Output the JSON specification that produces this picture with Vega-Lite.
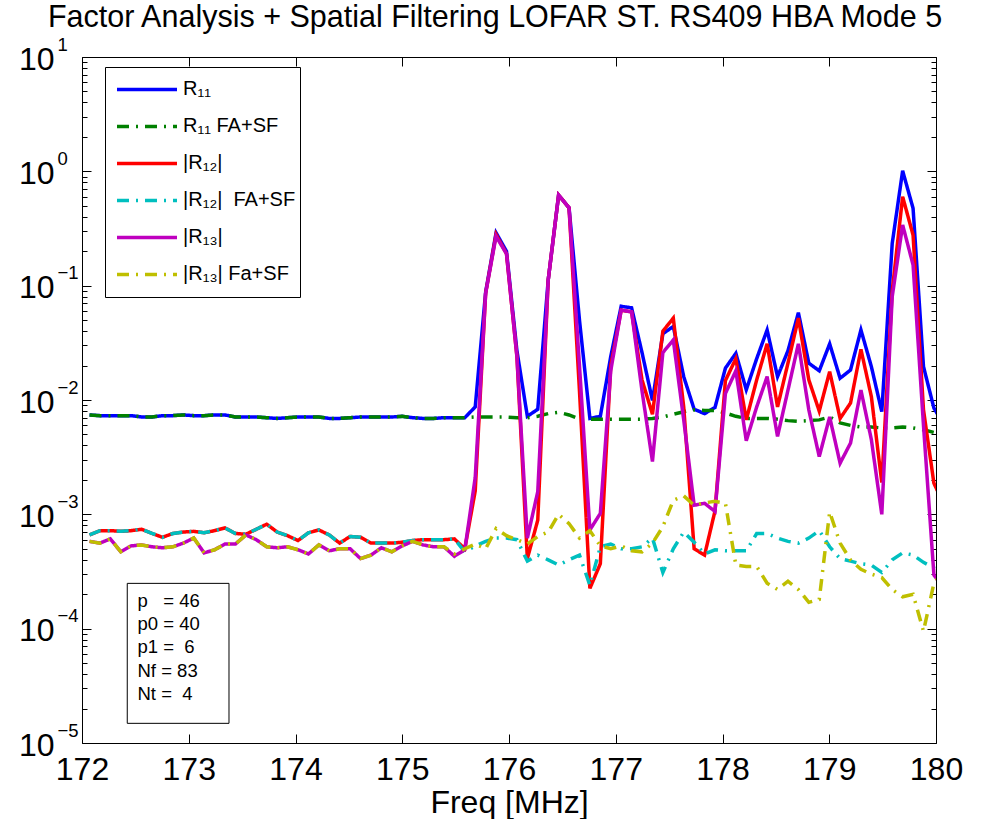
{
  "$schema": "https://vega.github.io/schema/vega-lite/v6.json",
  "width": 854,
  "height": 686,
  "autosize": {"type": "none"},
  "padding": {"left": 82, "top": 57, "right": 54, "bottom": 76},
  "background": "white",
  "config": {
    "font": "Liberation Sans",
    "view": {"stroke": "black", "strokeWidth": 1},
    "axis": {"domain": false, "grid": false, "tickColor": "black", "tickWidth": 1, "labelColor": "black", "titleColor": "black", "labelFont": "Liberation Sans", "titleFont": "Liberation Sans", "titleFontWeight": "normal"}
  },
  "title": {"text": "Factor Analysis + Spatial Filtering LOFAR ST. RS409 HBA Mode 5", "font": "Liberation Sans", "fontSize": 30.5, "fontWeight": "normal", "color": "black", "anchor": "middle", "frame": "group", "offset": 0, "dx": -14, "dy": -2},
  "datasets": {
    "spectra": [
      {"f": 172.0703, "R11": 0.0074, "R11fa": 0.0074, "R12": 0.00066, "R12fa": 0.00066, "R13": 0.00058, "R13fa": 0.00058},
      {"f": 172.1680, "R11": 0.0073, "R11fa": 0.0073, "R12": 0.00072, "R12fa": 0.00072, "R13": 0.00056, "R13fa": 0.00056},
      {"f": 172.2656, "R11": 0.0073, "R11fa": 0.0073, "R12": 0.00072, "R12fa": 0.00072, "R13": 0.00061, "R13fa": 0.00061},
      {"f": 172.3633, "R11": 0.0073, "R11fa": 0.0073, "R12": 0.00071, "R12fa": 0.00071, "R13": 0.00047, "R13fa": 0.00047},
      {"f": 172.4609, "R11": 0.0073, "R11fa": 0.0073, "R12": 0.00072, "R12fa": 0.00072, "R13": 0.00053, "R13fa": 0.00053},
      {"f": 172.5586, "R11": 0.0071, "R11fa": 0.0071, "R12": 0.00074, "R12fa": 0.00074, "R13": 0.00054, "R13fa": 0.00054},
      {"f": 172.6563, "R11": 0.0071, "R11fa": 0.0071, "R12": 0.00068, "R12fa": 0.00068, "R13": 0.00052, "R13fa": 0.00052},
      {"f": 172.7539, "R11": 0.0073, "R11fa": 0.0073, "R12": 0.00063, "R12fa": 0.00063, "R13": 0.00051, "R13fa": 0.00051},
      {"f": 172.8516, "R11": 0.0073, "R11fa": 0.0073, "R12": 0.00068, "R12fa": 0.00068, "R13": 0.00052, "R13fa": 0.00052},
      {"f": 172.9492, "R11": 0.0074, "R11fa": 0.0074, "R12": 0.00070, "R12fa": 0.00070, "R13": 0.00056, "R13fa": 0.00056},
      {"f": 173.0469, "R11": 0.0073, "R11fa": 0.0073, "R12": 0.00071, "R12fa": 0.00071, "R13": 0.00062, "R13fa": 0.00062},
      {"f": 173.1445, "R11": 0.0073, "R11fa": 0.0073, "R12": 0.00069, "R12fa": 0.00069, "R13": 0.00046, "R13fa": 0.00046},
      {"f": 173.2422, "R11": 0.0074, "R11fa": 0.0074, "R12": 0.00072, "R12fa": 0.00072, "R13": 0.00049, "R13fa": 0.00049},
      {"f": 173.3398, "R11": 0.0074, "R11fa": 0.0074, "R12": 0.00076, "R12fa": 0.00076, "R13": 0.00055, "R13fa": 0.00055},
      {"f": 173.4375, "R11": 0.0071, "R11fa": 0.0071, "R12": 0.00068, "R12fa": 0.00068, "R13": 0.00055, "R13fa": 0.00055},
      {"f": 173.5352, "R11": 0.0071, "R11fa": 0.0071, "R12": 0.00067, "R12fa": 0.00067, "R13": 0.00066, "R13fa": 0.00066},
      {"f": 173.6328, "R11": 0.0071, "R11fa": 0.0071, "R12": 0.00074, "R12fa": 0.00074, "R13": 0.00060, "R13fa": 0.00060},
      {"f": 173.7305, "R11": 0.0070, "R11fa": 0.0070, "R12": 0.00082, "R12fa": 0.00082, "R13": 0.00052, "R13fa": 0.00052},
      {"f": 173.8281, "R11": 0.0069, "R11fa": 0.0069, "R12": 0.00070, "R12fa": 0.00070, "R13": 0.00051, "R13fa": 0.00051},
      {"f": 173.9258, "R11": 0.0070, "R11fa": 0.0070, "R12": 0.00065, "R12fa": 0.00065, "R13": 0.00052, "R13fa": 0.00052},
      {"f": 174.0234, "R11": 0.0071, "R11fa": 0.0071, "R12": 0.00059, "R12fa": 0.00059, "R13": 0.00049, "R13fa": 0.00049},
      {"f": 174.1211, "R11": 0.0071, "R11fa": 0.0071, "R12": 0.00069, "R12fa": 0.00069, "R13": 0.00045, "R13fa": 0.00045},
      {"f": 174.2188, "R11": 0.0071, "R11fa": 0.0071, "R12": 0.00073, "R12fa": 0.00073, "R13": 0.00054, "R13fa": 0.00054},
      {"f": 174.3164, "R11": 0.0069, "R11fa": 0.0069, "R12": 0.00066, "R12fa": 0.00066, "R13": 0.00048, "R13fa": 0.00048},
      {"f": 174.4141, "R11": 0.0069, "R11fa": 0.0069, "R12": 0.00056, "R12fa": 0.00056, "R13": 0.00050, "R13fa": 0.00050},
      {"f": 174.5117, "R11": 0.0070, "R11fa": 0.0070, "R12": 0.00064, "R12fa": 0.00064, "R13": 0.00050, "R13fa": 0.00050},
      {"f": 174.6094, "R11": 0.0071, "R11fa": 0.0071, "R12": 0.00063, "R12fa": 0.00063, "R13": 0.00041, "R13fa": 0.00041},
      {"f": 174.7070, "R11": 0.0071, "R11fa": 0.0071, "R12": 0.00056, "R12fa": 0.00056, "R13": 0.00044, "R13fa": 0.00044},
      {"f": 174.8047, "R11": 0.0071, "R11fa": 0.0071, "R12": 0.00056, "R12fa": 0.00056, "R13": 0.00051, "R13fa": 0.00051},
      {"f": 174.9023, "R11": 0.0071, "R11fa": 0.0071, "R12": 0.00056, "R12fa": 0.00056, "R13": 0.00047, "R13fa": 0.00047},
      {"f": 175.0000, "R11": 0.0072, "R11fa": 0.0072, "R12": 0.00057, "R12fa": 0.00057, "R13": 0.00053, "R13fa": 0.00053},
      {"f": 175.0977, "R11": 0.0070, "R11fa": 0.0070, "R12": 0.00059, "R12fa": 0.00059, "R13": 0.00058, "R13fa": 0.00058},
      {"f": 175.1953, "R11": 0.0069, "R11fa": 0.0069, "R12": 0.00060, "R12fa": 0.00060, "R13": 0.00054, "R13fa": 0.00054},
      {"f": 175.2930, "R11": 0.0069, "R11fa": 0.0069, "R12": 0.00060, "R12fa": 0.00060, "R13": 0.00052, "R13fa": 0.00052},
      {"f": 175.3906, "R11": 0.0070, "R11fa": 0.0070, "R12": 0.00060, "R12fa": 0.00060, "R13": 0.00052, "R13fa": 0.00052},
      {"f": 175.4883, "R11": 0.0070, "R11fa": 0.0070, "R12": 0.00061, "R12fa": 0.00061, "R13": 0.00043, "R13fa": 0.00045},
      {"f": 175.5859, "R11": 0.0070, "R11fa": 0.0070, "R12": 0.00050, "R12fa": 0.00047, "R13": 0.00049, "R13fa": 0.00050},
      {"f": 175.6836, "R11": 0.0087, "R11fa": 0.0071, "R12": 0.0016, "R12fa": 0.00053, "R13": 0.0021, "R13fa": 0.00055},
      {"f": 175.7813, "R11": 0.088, "R11fa": 0.0071, "R12": 0.086, "R12fa": 0.00058, "R13": 0.086, "R13fa": 0.00050},
      {"f": 175.8789, "R11": 0.29, "R11fa": 0.0071, "R12": 0.28, "R12fa": 0.00062, "R13": 0.27, "R13fa": 0.00075},
      {"f": 175.9766, "R11": 0.20, "R11fa": 0.0071, "R12": 0.19, "R12fa": 0.00062, "R13": 0.19, "R13fa": 0.00065},
      {"f": 176.0742, "R11": 0.027, "R11fa": 0.0070, "R12": 0.024, "R12fa": 0.00060, "R13": 0.024, "R13fa": 0.00060},
      {"f": 176.1719, "R11": 0.0072, "R11fa": 0.0070, "R12": 0.00041, "R12fa": 0.00039, "R13": 0.00062, "R13fa": 0.00055},
      {"f": 176.2695, "R11": 0.0083, "R11fa": 0.0072, "R12": 0.00089, "R12fa": 0.00044, "R13": 0.00158, "R13fa": 0.00064},
      {"f": 176.3672, "R11": 0.112, "R11fa": 0.0076, "R12": 0.112, "R12fa": 0.00040, "R13": 0.112, "R13fa": 0.00070},
      {"f": 176.4648, "R11": 0.62, "R11fa": 0.0078, "R12": 0.62, "R12fa": 0.00036, "R13": 0.62, "R13fa": 0.00100},
      {"f": 176.5625, "R11": 0.48, "R11fa": 0.0074, "R12": 0.48, "R12fa": 0.00040, "R13": 0.48, "R13fa": 0.00083},
      {"f": 176.6602, "R11": 0.050, "R11fa": 0.0068, "R12": 0.012, "R12fa": 0.00044, "R13": 0.020, "R13fa": 0.00062},
      {"f": 176.7578, "R11": 0.0069, "R11fa": 0.0068, "R12": 0.000225, "R12fa": 0.00024, "R13": 0.00073, "R13fa": 0.00072},
      {"f": 176.8555, "R11": 0.0072, "R11fa": 0.0068, "R12": 0.00037, "R12fa": 0.00052, "R13": 0.00102, "R13fa": 0.00053},
      {"f": 176.9531, "R11": 0.024, "R11fa": 0.0068, "R12": 0.020, "R12fa": 0.00055, "R13": 0.018, "R13fa": 0.00050},
      {"f": 177.0508, "R11": 0.066, "R11fa": 0.0068, "R12": 0.061, "R12fa": 0.00050, "R13": 0.061, "R13fa": 0.00053},
      {"f": 177.1484, "R11": 0.064, "R11fa": 0.0068, "R12": 0.059, "R12fa": 0.00050, "R13": 0.059, "R13fa": 0.00048},
      {"f": 177.2461, "R11": 0.026, "R11fa": 0.0068, "R12": 0.015, "R12fa": 0.00052, "R13": 0.012, "R13fa": 0.00047},
      {"f": 177.3438, "R11": 0.0099, "R11fa": 0.0069, "R12": 0.0075, "R12fa": 0.00062, "R13": 0.0029, "R13fa": 0.00056},
      {"f": 177.4414, "R11": 0.038, "R11fa": 0.0071, "R12": 0.040, "R12fa": 0.00031, "R13": 0.026, "R13fa": 0.00078},
      {"f": 177.5391, "R11": 0.044, "R11fa": 0.0075, "R12": 0.052, "R12fa": 0.00050, "R13": 0.0335, "R13fa": 0.00133},
      {"f": 177.6367, "R11": 0.016, "R11fa": 0.0079, "R12": 0.0087, "R12fa": 0.00070, "R13": 0.0067, "R13fa": 0.00145},
      {"f": 177.7344, "R11": 0.0083, "R11fa": 0.0082, "R12": 0.00050, "R12fa": 0.00057, "R13": 0.0012, "R13fa": 0.00120},
      {"f": 177.8320, "R11": 0.0076, "R11fa": 0.0081, "R12": 0.00044, "R12fa": 0.00045, "R13": 0.00125, "R13fa": 0.00126},
      {"f": 177.9297, "R11": 0.0086, "R11fa": 0.0081, "R12": 0.00107, "R12fa": 0.00049, "R13": 0.00106, "R13fa": 0.00130},
      {"f": 178.0273, "R11": 0.019, "R11fa": 0.0077, "R12": 0.0148, "R12fa": 0.00048, "R13": 0.0114, "R13fa": 0.00125},
      {"f": 178.1250, "R11": 0.0256, "R11fa": 0.0072, "R12": 0.023, "R12fa": 0.00048, "R13": 0.018, "R13fa": 0.00036},
      {"f": 178.2227, "R11": 0.0123, "R11fa": 0.0069, "R12": 0.0067, "R12fa": 0.00048, "R13": 0.0044, "R13fa": 0.00035},
      {"f": 178.3203, "R11": 0.023, "R11fa": 0.0069, "R12": 0.015, "R12fa": 0.00068, "R13": 0.0087, "R13fa": 0.00035},
      {"f": 178.4180, "R11": 0.041, "R11fa": 0.0069, "R12": 0.031, "R12fa": 0.00068, "R13": 0.016, "R13fa": 0.00025},
      {"f": 178.5156, "R11": 0.016, "R11fa": 0.0068, "R12": 0.0087, "R12fa": 0.00062, "R13": 0.0048, "R13fa": 0.00022},
      {"f": 178.6133, "R11": 0.027, "R11fa": 0.0066, "R12": 0.021, "R12fa": 0.00058, "R13": 0.0122, "R13fa": 0.00026},
      {"f": 178.7109, "R11": 0.058, "R11fa": 0.0065, "R12": 0.052, "R12fa": 0.00056, "R13": 0.031, "R13fa": 0.00022},
      {"f": 178.8086, "R11": 0.021, "R11fa": 0.0066, "R12": 0.015, "R12fa": 0.00062, "R13": 0.0082, "R13fa": 0.00017},
      {"f": 178.9063, "R11": 0.018, "R11fa": 0.0067, "R12": 0.0080, "R12fa": 0.00072, "R13": 0.0032, "R13fa": 0.00018},
      {"f": 179.0039, "R11": 0.031, "R11fa": 0.0071, "R12": 0.0177, "R12fa": 0.00052, "R13": 0.0071, "R13fa": 0.00105},
      {"f": 179.1016, "R11": 0.0155, "R11fa": 0.0063, "R12": 0.0069, "R12fa": 0.00041, "R13": 0.0028, "R13fa": 0.00056},
      {"f": 179.1992, "R11": 0.0183, "R11fa": 0.0060, "R12": 0.0094, "R12fa": 0.00039, "R13": 0.0042, "R13fa": 0.00040},
      {"f": 179.2969, "R11": 0.041, "R11fa": 0.0058, "R12": 0.0277, "R12fa": 0.00037, "R13": 0.0122, "R13fa": 0.00033},
      {"f": 179.3945, "R11": 0.0196, "R11fa": 0.0058, "R12": 0.0107, "R12fa": 0.00036, "R13": 0.0045, "R13fa": 0.00030},
      {"f": 179.4922, "R11": 0.0079, "R11fa": 0.0057, "R12": 0.0019, "R12fa": 0.00031, "R13": 0.0010, "R13fa": 0.00028},
      {"f": 179.5898, "R11": 0.234, "R11fa": 0.0057, "R12": 0.090, "R12fa": 0.00040, "R13": 0.080, "R13fa": 0.00022},
      {"f": 179.6875, "R11": 1.01, "R11fa": 0.0058, "R12": 0.60, "R12fa": 0.00046, "R13": 0.34, "R13fa": 0.00019},
      {"f": 179.7852, "R11": 0.475, "R11fa": 0.0057, "R12": 0.277, "R12fa": 0.00044, "R13": 0.152, "R13fa": 0.00020},
      {"f": 179.8828, "R11": 0.0196, "R11fa": 0.0055, "R12": 0.0082, "R12fa": 0.00038, "R13": 0.0060, "R13fa": 0.000095},
      {"f": 179.9805, "R11": 0.0085, "R11fa": 0.0052, "R12": 0.00187, "R12fa": 0.00034, "R13": 0.000295, "R13fa": 0.00025},
      {"f": 180.0781, "R11": 0.0060, "R11fa": 0.0050, "R12": 0.0012, "R12fa": 0.00030, "R13": 0.00022, "R13fa": 0.00032}
    ],
    "box": [{"x1": 172.424, "x2": 173.377, "y1": 0.000249, "y2": 0.00001486}],
    "note": [{"x": 172.52, "y": 0.0001556, "t": "p\u00a0\u00a0\u00a0= 46\np0 = 40\np1 =\u00a0\u00a06\nNf = 83\nNt =\u00a0\u00a04"}]
  },
  "layer": [
    {
      "data": {"name": "spectra"},
      "transform": [{"fold": ["R11", "R11fa", "R12", "R12fa", "R13", "R13fa"], "as": ["series", "v"]}],
      "mark": {"type": "line", "strokeWidth": 3.5, "clip": true},
      "encoding": {
        "x": {"field": "f", "type": "quantitative", "scale": {"domain": [172, 180], "nice": false, "zero": false},
          "axis": {"orient": "bottom", "values": [172, 173, 174, 175, 176, 177, 178, 179, 180], "format": "d",
            "title": "Freq [MHz]", "titleFontSize": 32, "titleBaseline": "alphabetic", "titlePadding": 27,
            "labelFontSize": 32, "labelBaseline": "alphabetic", "labelPadding": 45, "labelFlush": false, "labelOverlap": false,
            "tickSize": -9}},
        "y": {"field": "v", "type": "quantitative", "scale": {"type": "log", "domain": [0.00001, 10], "nice": false},
          "axis": {"orient": "left", "title": null,
            "values": [0.00001,0.00002,0.00003,0.00004,0.00005,0.00006,0.00007,0.00008,0.00009,0.0001,0.0002,0.0003,0.0004,0.0005,0.0006,0.0007,0.0008,0.0009,0.001,0.002,0.003,0.004,0.005,0.006,0.007,0.008,0.009,0.01,0.02,0.03,0.04,0.05,0.06,0.07,0.08,0.09,0.1,0.2,0.3,0.4,0.5,0.6,0.7,0.8,0.9,1,2,3,4,5,6,7,8,9,10],
            "labelExpr": "abs(log(datum.value)/LN10 - round(log(datum.value)/LN10)) < 0.001 ? '10' : ''",
            "labelFontSize": 32, "labelAlign": "right", "labelBaseline": "alphabetic", "labelOffset": 12, "labelPadding": 37,
            "labelOverlap": false, "labelFlush": false,
            "tickSize": {"condition": {"test": "abs(log(datum.value)/LN10 - round(log(datum.value)/LN10)) < 0.001", "value": -9}, "value": -5}}},
        "color": {"field": "series", "type": "nominal",
          "scale": {"domain": ["R11", "R11fa", "R12", "R12fa", "R13", "R13fa"], "range": ["#0000ff", "#008000", "#ff0000", "#00bfbf", "#bf00bf", "#bfbf00"]},
          "legend": {"title": null, "orient": "none", "legendX": 23, "legendY": 10, "symbolType": "stroke", "symbolSize": 3600, "symbolStrokeWidth": 3.5,
            "labelFontSize": 20, "labelColor": "black", "labelFont": "Liberation Sans", "labelLimit": 400, "labelOffset": 4,
            "strokeColor": "black", "fillColor": "white", "padding": 4, "clipHeight": 36.8, "rowPadding": 0, "symbolOffset": 6,
            "labelExpr": "datum.label == 'R11' ? 'R₁₁' : datum.label == 'R11fa' ? 'R₁₁ FA+SF' : datum.label == 'R12' ? '|R₁₂|' : datum.label == 'R12fa' ? '|R₁₂|\u00a0 FA+SF' : datum.label == 'R13' ? '|R₁₃|' : '|R₁₃| Fa+SF'"}},
        "strokeDash": {"field": "series", "type": "nominal",
          "scale": {"domain": ["R11", "R11fa", "R12", "R12fa", "R13", "R13fa"], "range": [[1, 0], [12, 7, 2, 7], [1, 0], [12, 7, 2, 7], [1, 0], [12, 7, 2, 7]]},
          "legend": {"title": null, "orient": "none", "legendX": 23, "legendY": 10, "symbolType": "stroke", "symbolSize": 3600, "symbolStrokeWidth": 3.5,
            "labelFontSize": 20, "labelColor": "black", "labelFont": "Liberation Sans", "labelLimit": 400, "labelOffset": 4,
            "strokeColor": "black", "fillColor": "white", "padding": 4, "clipHeight": 36.8, "rowPadding": 0, "symbolOffset": 6,
            "labelExpr": "datum.label == 'R11' ? 'R₁₁' : datum.label == 'R11fa' ? 'R₁₁ FA+SF' : datum.label == 'R12' ? '|R₁₂|' : datum.label == 'R12fa' ? '|R₁₂|\u00a0 FA+SF' : datum.label == 'R13' ? '|R₁₃|' : '|R₁₃| Fa+SF'"}}
      }
    },
    {
      "data": {"name": "box"},
      "mark": {"type": "rect", "fill": "white", "stroke": "black", "strokeWidth": 1},
      "encoding": {
        "x": {"field": "x1", "type": "quantitative", "scale": {"domain": [172, 180], "nice": false, "zero": false},
          "axis": {"orient": "top", "values": [172, 173, 174, 175, 176, 177, 178, 179, 180], "labels": false, "title": null, "tickSize": -9}},
        "x2": {"field": "x2"},
        "y": {"field": "y1", "type": "quantitative", "scale": {"type": "log", "domain": [0.00001, 10], "nice": false},
          "axis": {"orient": "right", "title": null, "labels": false,
            "values": [0.00001,0.00002,0.00003,0.00004,0.00005,0.00006,0.00007,0.00008,0.00009,0.0001,0.0002,0.0003,0.0004,0.0005,0.0006,0.0007,0.0008,0.0009,0.001,0.002,0.003,0.004,0.005,0.006,0.007,0.008,0.009,0.01,0.02,0.03,0.04,0.05,0.06,0.07,0.08,0.09,0.1,0.2,0.3,0.4,0.5,0.6,0.7,0.8,0.9,1,2,3,4,5,6,7,8,9,10],
            "tickSize": {"condition": {"test": "abs(log(datum.value)/LN10 - round(log(datum.value)/LN10)) < 0.001", "value": -9}, "value": -5}}},
        "y2": {"field": "y2"}
      }
    },
    {
      "data": {"name": "note"},
      "mark": {"type": "text", "align": "left", "baseline": "alphabetic", "fontSize": 18.5, "lineHeight": 23.3, "lineBreak": "\n", "color": "black", "font": "Liberation Sans"},
      "encoding": {
        "x": {"field": "x", "type": "quantitative", "scale": {"domain": [172, 180], "nice": false, "zero": false}, "axis": null},
        "y": {"field": "y", "type": "quantitative", "scale": {"type": "log", "domain": [0.00001, 10], "nice": false},
          "axis": {"orient": "left", "title": null, "values": [0.00001, 0.0001, 0.001, 0.01, 0.1, 1, 10], "ticks": false,
            "labelExpr": "format(round(log(datum.value)/LN10), 'd')",
            "labelFontSize": 18.5, "labelAlign": "left", "labelBaseline": "alphabetic", "labelPadding": 25, "labelOffset": -7,
            "labelOverlap": false, "labelFlush": false}},
        "text": {"field": "t"}
      }
    }
  ],
  "resolve": {"axis": {"x": "independent", "y": "independent"}}
}
